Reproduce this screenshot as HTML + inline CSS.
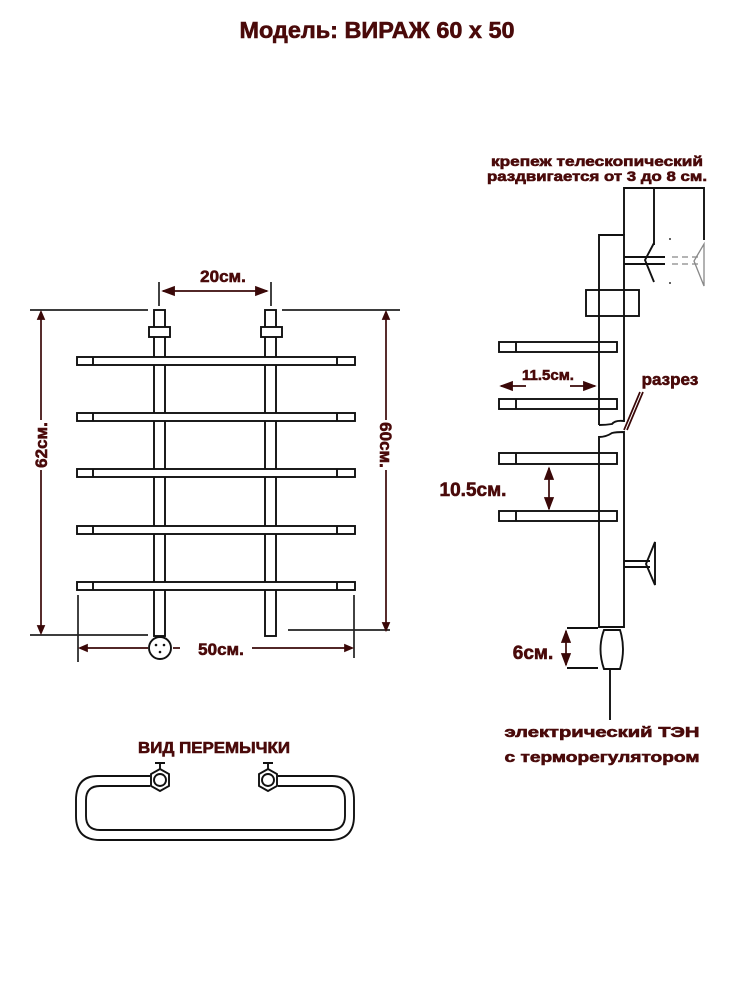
<!DOCTYPE html>
<html><head><meta charset="utf-8"><style>
html,body{margin:0;padding:0;background:#fff}
svg{display:block}
.t{font-family:"Liberation Sans","DejaVu Sans",sans-serif;font-weight:bold;fill:#4a0a0a;stroke:#4a0a0a;stroke-width:0.6}
</style></head><body>
<svg width="750" height="1000" viewBox="0 0 750 1000" xmlns="http://www.w3.org/2000/svg">
<defs>
<marker id="a" markerWidth="8" markerHeight="8" refX="7" refY="4" orient="auto-start-reverse"><path d="M0,1 L8,4 L0,7 Z" fill="#3a0808"/></marker>
</defs>
<text class="t" x="377" y="38" text-anchor="middle" font-size="23" textLength="275" lengthAdjust="spacingAndGlyphs">Модель: ВИРАЖ 60 х 50</text>

<g fill="none" stroke="#111" stroke-width="1.9">
<rect x="154" y="310" width="11" height="326" fill="#fff"/>
<rect x="265" y="310" width="11" height="326" fill="#fff"/>
<rect x="149" y="327" width="21" height="10" fill="#fff"/>
<rect x="261" y="327" width="21" height="10" fill="#fff"/>
<g fill="#fff">
<rect x="77" y="357" width="278" height="8"/><rect x="77" y="413" width="278" height="8"/><rect x="77" y="469" width="278" height="8"/><rect x="77" y="526" width="278" height="8"/><rect x="77" y="582" width="278" height="8"/>
</g>
<path d="M93,357v8M337,357v8M93,413v8M337,413v8M93,469v8M337,469v8M93,526v8M337,526v8M93,582v8M337,582v8"/>
<circle cx="160" cy="648" r="11" fill="#fff"/>
</g>
<g fill="#111"><circle cx="156" cy="645" r="1.3"/><circle cx="164" cy="645" r="1.3"/><circle cx="160" cy="652" r="1.3"/></g>
<g stroke="#222" stroke-width="1.7" fill="none">
<path d="M159,282v24M271,282v24"/>
<path d="M30,310h118M282,310h118M30,635h118M288,630h102"/>
<path d="M78,595v67M354,595v63"/>
</g>
<g stroke="#3a0808" stroke-width="1.7" fill="none">
<line x1="163" y1="291" x2="267" y2="291" marker-start="url(#a)" marker-end="url(#a)"/>
<line x1="41" y1="313" x2="41" y2="420"/><line x1="41" y1="470" x2="41" y2="631"/>
<path d="M41,312 l-3,7 h6z M41,633 l-3,-7 h6z" fill="#3a0808"/>
<line x1="386" y1="313" x2="386" y2="420"/><line x1="386" y1="470" x2="386" y2="628"/>
<path d="M386,312 l-3,7 h6z M386,630 l-3,-7 h6z" fill="#3a0808"/>
<line x1="81" y1="648" x2="148" y2="648"/><line x1="173" y1="648" x2="180" y2="648"/><line x1="252" y1="648" x2="351" y2="648"/>
<path d="M80,648 l7,-3 v6z M352,648 l-7,-3 v6z" fill="#3a0808"/>
</g>
<text class="t" x="223" y="282" text-anchor="middle" font-size="17">20см.</text>
<text class="t" x="221" y="655" text-anchor="middle" font-size="17">50см.</text>
<text class="t" font-size="17" text-anchor="middle" transform="translate(47,445) rotate(-90)">62см.</text>
<text class="t" font-size="17" text-anchor="middle" transform="translate(380,445) rotate(90)">60см.</text>

<g fill="none" stroke="#111" stroke-width="1.9">
<path d="M624,235 V188 H704 V240 M654,188 V245"/>
<path d="M599,425 V235 H624 V421 Q615,420 612,424 Q606,425 599,425"/>
<path d="M599,627 V437 Q606,437 612,433 Q616,432 624,432 V627 Z"/>
<rect x="586" y="290" width="53" height="26"/>
<g fill="#fff"><rect x="499" y="342" width="118" height="10"/><rect x="499" y="399" width="118" height="10"/><rect x="499" y="453" width="118" height="11"/><rect x="499" y="511" width="118" height="10"/></g>
<path d="M516,342v10M516,399v10M516,453v11M516,511v10"/>
<path d="M599,342v10M599,399v10M599,453v11M599,511v10"/>
<path d="M624,257H665M624,264H665"/>
<path d="M654,243 L645,260 L654,282"/>
<path d="M624,561H650M624,567H650M655,542 L646,564 L655,585Z"/>
<path d="M604,630 H620 Q626,649 620,669 H604 Q597,649 604,630Z"/>
<path d="M610,669V720"/>
<path d="M567,628H598M567,668H598"/>
</g>
<g fill="none" stroke="#888" stroke-width="1.3">
<path d="M672,257H700M672,264H700" stroke-dasharray="6,4"/>
<path d="M704,244 V286 L694,261 Z"/>
</g>
<g fill="#333"><circle cx="670" cy="239" r="1"/><circle cx="670" cy="283" r="1"/></g>
<g stroke="#3a0808" stroke-width="1.7" fill="none">
<line x1="501" y1="386" x2="526" y2="386" marker-start="url(#a)"/>
<line x1="570" y1="386" x2="595" y2="386" marker-end="url(#a)"/>
<line x1="549" y1="468" x2="549" y2="509" marker-start="url(#a)" marker-end="url(#a)"/>
<line x1="566" y1="631" x2="566" y2="665" marker-start="url(#a)" marker-end="url(#a)"/>
<path d="M640,392 L624,430 M643,392 L627,430"/>
</g>
<text class="t" x="548" y="380" text-anchor="middle" font-size="15">11.5см.</text>
<text class="t" x="670" y="385" text-anchor="middle" font-size="17">разрез</text>
<text class="t" x="473" y="496" text-anchor="middle" font-size="19">10.5см.</text>
<text class="t" x="533" y="659" text-anchor="middle" font-size="19">6см.</text>
<text class="t" x="597" y="166" text-anchor="middle" font-size="14" textLength="212" lengthAdjust="spacingAndGlyphs">крепеж телескопический</text>
<text class="t" x="597" y="181" text-anchor="middle" font-size="14" textLength="220" lengthAdjust="spacingAndGlyphs">раздвигается от 3 до 8 см.</text>
<text class="t" x="602" y="737" text-anchor="middle" font-size="15" textLength="195" lengthAdjust="spacingAndGlyphs">электрический   ТЭН</text>
<text class="t" x="602" y="762" text-anchor="middle" font-size="15" textLength="195" lengthAdjust="spacingAndGlyphs">с терморегулятором</text>

<text class="t" x="214" y="753" text-anchor="middle" font-size="16" textLength="152" lengthAdjust="spacingAndGlyphs">ВИД ПЕРЕМЫЧКИ</text>
<g fill="none" stroke="#111" stroke-width="1.9">
<path d="M150,776 H98 Q76,776 76,800 V816 Q76,840 100,840 H330 Q354,840 354,816 V800 Q354,776 332,776 H278"/>
<path d="M150,786 H100 Q86,786 86,800 V816 Q86,830 100,830 H330 Q345,830 345,816 V800 Q345,786 332,786 H278"/>
<polygon points="160,769 169,774 169,786 160,791 151,786 151,774" fill="#fff"/>
<circle cx="160" cy="780" r="6"/>
<polygon points="268,769 277,774 277,786 268,791 259,786 259,774" fill="#fff"/>
<circle cx="268" cy="780" r="6"/>
<path d="M160,769v-6M155,763h10M268,769v-6M263,763h10"/>
</g>
</svg>
</body></html>
